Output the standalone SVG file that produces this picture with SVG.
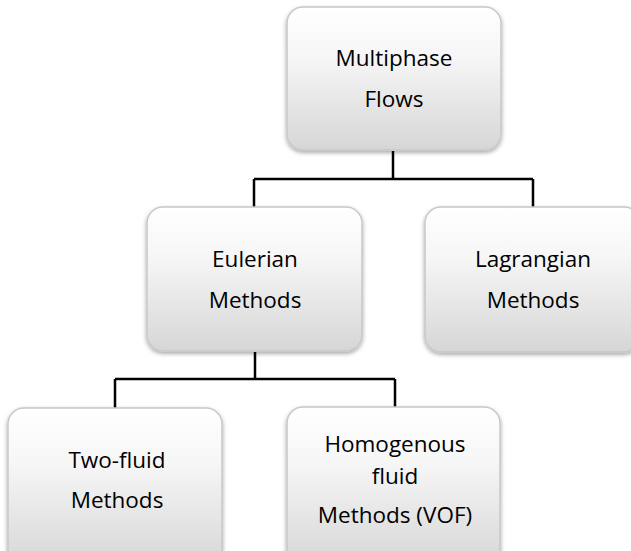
<svg xmlns="http://www.w3.org/2000/svg" width="631" height="551" viewBox="0 0 631 551">
<defs>
<linearGradient id="g" x1="0" y1="0" x2="0" y2="1">
<stop offset="0" stop-color="#ffffff"/>
<stop offset="0.35" stop-color="#f6f6f6"/>
<stop offset="1" stop-color="#d6d6d6"/>
</linearGradient>
<filter id="sh" x="-10%" y="-10%" width="120%" height="125%">
<feDropShadow dx="0" dy="2" stdDeviation="2" flood-color="#000" flood-opacity="0.35"/>
</filter>
</defs>
<style>
.box{fill:url(#g);stroke:#c8c8c8;stroke-width:1.5;filter:url(#sh)}
.t{font-family:"Open Sans","Liberation Sans",sans-serif;font-size:22.5px;fill:#000;text-anchor:middle}
.c{fill:none;stroke:#000;stroke-width:2.5}
</style>
<rect width="631" height="551" fill="#fff"/>
<g id="connectors">
<path class="c" d="M393,151 V179 M254,179 H533 M254,179 V207 M533,179 V207"/>
<path class="c" d="M255,352 V379 M115,379 H395 M115,379 V408 M395,379 V407"/>
</g>
<g id="multiphase">
<rect class="box" x="287" y="7" width="214" height="143" rx="16"/>
<text class="t" x="394" y="66">Multiphase</text>
<text class="t" x="394" y="107">Flows</text>
</g>
<g id="eulerian">
<rect class="box" x="147" y="207" width="215" height="144" rx="16"/>
<text class="t" x="255" y="267">Eulerian</text>
<text class="t" x="255" y="308">Methods</text>
</g>
<g id="lagrangian">
<rect class="box" x="425" y="207" width="215" height="145" rx="16"/>
<text class="t" x="533" y="267">Lagrangian</text>
<text class="t" x="533" y="308">Methods</text>
</g>
<g id="twofluid">
<rect class="box" x="8" y="408" width="214" height="160" rx="16"/>
<text class="t" x="117" y="468">Two-fluid</text>
<text class="t" x="117" y="508">Methods</text>
</g>
<g id="homogenous">
<rect class="box" x="287" y="407" width="213" height="160" rx="16"/>
<text class="t" x="395" y="452">Homogenous</text>
<text class="t" x="395" y="484">fluid</text>
<text class="t" x="395" y="523">Methods (VOF)</text>
</g>
</svg>
